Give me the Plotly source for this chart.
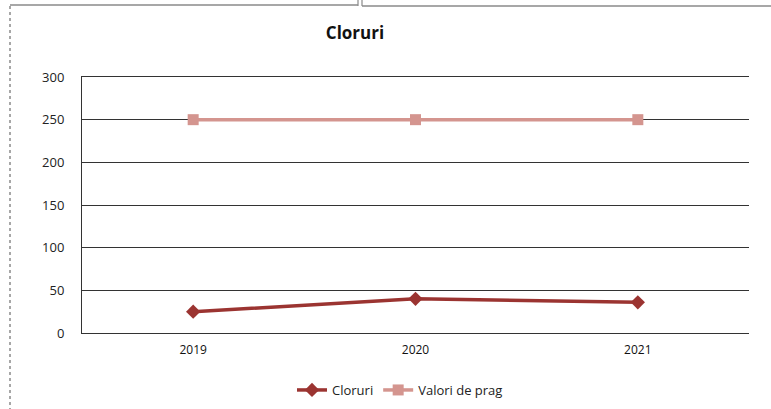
import plotly.graph_objects as go

years = ["2019", "2020", "2021"]
cloruri = [25, 40, 36]
valori_prag = [250, 250, 250]
y_ticks = [0, 50, 100, 150, 200, 250, 300]

W, H = 771, 409
L, R, T, B = 82, 22, 77, 76
pw = W - L - R
ph = H - T - B

def px_x(x):
    return (x - L) / pw

def px_y(y):
    return (H - B - y) / ph

fig = go.Figure()
fig.add_trace(go.Scatter(
    x=years, y=cloruri, name="Cloruri", mode="lines+markers",
    line=dict(color="#9b3431", width=3.5),
    marker=dict(symbol="diamond", size=11, color="#9b3431"),
))
fig.add_trace(go.Scatter(
    x=years, y=valori_prag, name="Valori de prag", mode="lines+markers",
    line=dict(color="#d4958f", width=3.5),
    marker=dict(symbol="square", size=11, color="#d4958f"),
))

border = "#8a8a8a"
shapes = [
    dict(type="line", xref="paper", yref="paper", x0=px_x(10), x1=px_x(358),
         y0=px_y(5), y1=px_y(5), line=dict(color=border, width=1.5)),
    dict(type="line", xref="paper", yref="paper", x0=px_x(362), x1=px_x(771),
         y0=px_y(6), y1=px_y(6), line=dict(color=border, width=1.5)),
    dict(type="line", xref="paper", yref="paper", x0=px_x(358), x1=px_x(358),
         y0=px_y(0), y1=px_y(6), line=dict(color=border, width=1.2)),
    dict(type="line", xref="paper", yref="paper", x0=px_x(362), x1=px_x(362),
         y0=px_y(0), y1=px_y(6), line=dict(color=border, width=1.2)),
    dict(type="line", xref="paper", yref="paper", x0=px_x(10), x1=px_x(10),
         y0=px_y(6), y1=px_y(409), line=dict(color=border, width=1.5, dash="dot")),
]

fig.update_layout(
    width=W, height=H,
    margin=dict(l=L, r=R, t=T, b=B, autoexpand=False),
    paper_bgcolor="white", plot_bgcolor="white",
    font=dict(family="Open Sans, Liberation Sans, sans-serif", color="#222222", size=12),
    title=dict(text="<b>Cloruri</b>", x=355 / W, xanchor="center", xref="container",
               y=1 - 33 / H, yanchor="middle", yref="container",
               font=dict(size=17, color="#111111")),
    xaxis=dict(type="category", range=[-0.5, 2.5], showgrid=False, automargin=False,
               showline=True, mirror=True, linecolor="#333333", linewidth=1,
               zeroline=False, ticks="",
               tickfont=dict(size=12, color="#111111"), ticklabelstandoff=6),
    yaxis=dict(range=[0, 300], tickvals=y_ticks, showgrid=True, automargin=False,
               gridcolor="#333333", gridwidth=1, showline=True,
               linecolor="#333333", linewidth=1, zeroline=False,
               tickfont=dict(size=13, color="#222222"), ticks="", ticklabelstandoff=14),
    legend=dict(orientation="h", x=400 / W, xanchor="center", xref="container",
                y=1 - 390 / H, yanchor="middle", yref="container",
                font=dict(size=13, color="#222222"),
                itemwidth=30, tracegroupgap=0),
    shapes=shapes,
    showlegend=True,
)

fig.write_html("out.html", config={"displayModeBar": False},
               post_script="document.body.style.margin='0';document.body.style.padding='0';document.body.style.overflow='hidden';")
